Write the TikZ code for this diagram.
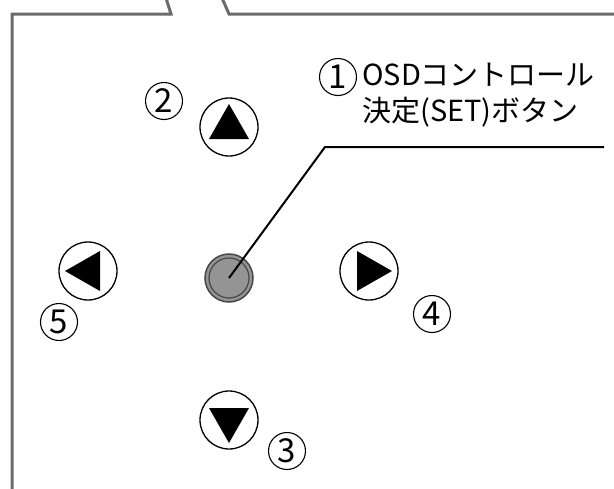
\documentclass[tikz,border=0pt]{standalone}
\usepackage{fontspec}
\setmainfont{Noto Sans CJK JP}
\usetikzlibrary{positioning, calc}

\begin{document}
\begin{tikzpicture}[x=1pt, y=-1pt,
    frame/.style={draw=black!58, line width=3pt},
    key/.style={circle, draw=black, line width=1.3pt, minimum size=58pt, inner sep=0pt},
    setkey/.style={circle, draw=black!72, fill=black!42, line width=1.5pt, minimum size=48pt, inner sep=0pt},
    num/.style={circle, draw=black, line width=1.1pt, minimum size=37pt, inner sep=0pt, font=\fontsize{33}{33}\selectfont},
    leader/.style={draw=black, line width=2pt},
    label/.style={align=left, anchor=west, inner sep=0pt, font=\fontsize{29}{36}\selectfont}
  ]

  \useasboundingbox (0,0) rectangle (614,488);

  % panel outline with the notch at the top
  \draw[frame] (12,490) -- (12,14) -- (171,14) -- (166,-2);
  \draw[frame] (222,-2) -- (229,14) -- (616,14);

  \node[key] (up) at (229,127) {};
  \node[key] (left) at (88,271) {};
  \node[key] (right) at (369,271) {};
  \node[key] (down) at (229,420) {};
  \node[setkey] (set) at (229,278) {};
  \draw[black!72, line width=1.2pt] (set.center) circle[radius=20];

  \fill ($(up)+(0,-23)$) -- ($(up)+(20,12)$) -- ($(up)+(-20,12)$) -- cycle;
  \fill ($(down)+(0,23)$) -- ($(down)+(20,-12)$) -- ($(down)+(-20,-12)$) -- cycle;
  \fill ($(left)+(-23,0)$) -- ($(left)+(12,-20)$) -- ($(left)+(12,20)$) -- cycle;
  \fill ($(right)+(23,0)$) -- ($(right)+(-12,-20)$) -- ($(right)+(-12,20)$) -- cycle;

  \node[num] (n1) at (338,77) {1};
  \node[num] (n2) at (164,101) {2};
  \node[num] (n3) at (287,451) {3};
  \node[num] (n4) at (432,314) {4};
  \node[num] (n5) at (59,322) {5};

  \node[label] (name) at (362,95) {OSDコントロール\\決定(SET)ボタン};

  \coordinate (bend) at (325,147);
  \coordinate (tail) at (604,147);
  \draw[leader] (set.center) -- (bend) -- (tail);

\end{tikzpicture}
\end{document}
